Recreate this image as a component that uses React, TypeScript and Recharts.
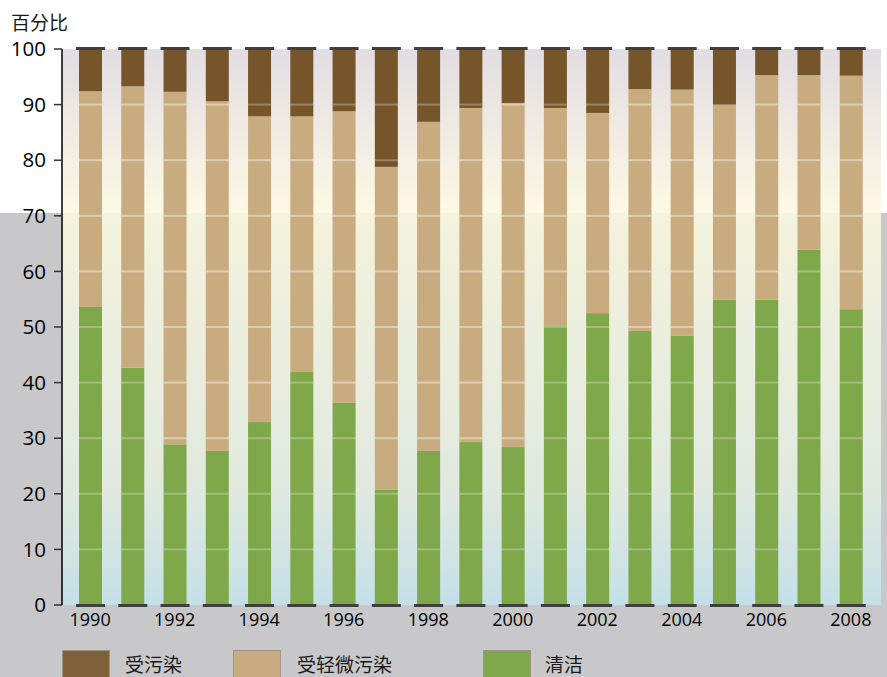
import React from "react"
import { BarChart, Bar, XAxis, YAxis, CartesianGrid } from "recharts"

const years = [
  "1990", "1991", "1992", "1993", "1994", "1995", "1996", "1997", "1998", "1999",
  "2000", "2001", "2002", "2003", "2004", "2005", "2006", "2007", "2008",
]
// 清洁
const clean = [53.6, 42.7, 28.9, 27.7, 32.9, 41.9, 36.4, 20.7, 27.7, 29.3, 28.4, 50.2, 52.5, 49.3, 48.4, 54.9, 54.9, 63.9, 53.2]
// 受轻微污染
const light = [38.8, 50.6, 63.4, 62.9, 55.0, 46.0, 52.4, 58.1, 59.2, 60.1, 61.9, 39.2, 36.0, 43.5, 44.3, 35.1, 40.4, 31.4, 42.0]
// 受污染
const polluted = [7.6, 6.7, 7.7, 9.4, 12.1, 12.1, 11.2, 21.2, 13.1, 10.6, 9.7, 10.6, 11.5, 7.2, 7.3, 10.0, 4.7, 4.7, 4.8]
const yTicks = [0, 10, 20, 30, 40, 50, 60, 70, 80, 90, 100]

const data = years.map((year, i) => ({ year, clean: clean[i], light: light[i], polluted: polluted[i] }))

const colors = { polluted: "#76552b", light: "#c9ab80", clean: "#7fa84a" }
const font = "'Open Sans', 'Noto Sans', sans-serif"
const cjk = "'Noto Sans CJK SC', 'Noto Sans', sans-serif"

type Seg = "clean" | "light" | "polluted"

function bounds(seg: Seg, p: any): [number, number] {
  if (seg === "clean") return [0, p.clean]
  if (seg === "light") return [p.clean, p.clean + p.light]
  return [p.clean + p.light, p.clean + p.light + p.polluted]
}

function Segment(props: any) {
  const { x, y, width, height, fill, payload, seg } = props
  if (!height || height <= 0) return null
  const [lo, hi] = bounds(seg, payload)
  const ppu = height / (hi - lo)
  const alpha = seg === "light" ? 0.4 : 0.27
  const lines = yTicks.filter((t) => t > lo && t < hi && t < 100)
  return (
    <g>
      <rect x={x} y={y} width={width} height={height} fill={fill} />
      {lines.map((t) => (
        <rect key={t} x={x} y={y + (hi - t) * ppu - 1} width={width} height={2} fill={`rgba(255,255,255,${alpha})`} />
      ))}
      {seg === "clean" && <rect x={x - 3} y={y + height - 1} width={width + 6} height={3} fill="#3f3f3f" />}
      {seg === "polluted" && <rect x={x - 3} y={y - 2} width={width + 6} height={3} fill="#3f3f3f" />}
    </g>
  )
}

const legendItems = [
  { label: "受污染", color: "#7d5f39", left: 62, textLeft: 125 },
  { label: "受轻微污染", color: "#c9ab80", left: 233, textLeft: 297 },
  { label: "清洁", color: "#7fa84a", left: 483, textLeft: 545 },
]

export default function App() {
  return (
    <div
      style={{
        position: "absolute",
        left: 0,
        top: 0,
        width: 887,
        height: 677,
        overflow: "hidden",
        background: "linear-gradient(to bottom, #ffffff 0px, #ffffff 213px, #c8c8ca 213px, #c8c8ca 100%)",
      }}
    >
      <svg width={0} height={0} style={{ position: "absolute" }}>
        <defs>
          <linearGradient id="plotBg" x1="0" y1="0" x2="0" y2="1">
            <stop offset="0" stopColor="#e2dde2" />
            <stop offset="0.295" stopColor="#fdf9e4" />
            <stop offset="0.295" stopColor="#f4f3dc" />
            <stop offset="0.8" stopColor="#e0e9e0" />
            <stop offset="1" stopColor="#c3e0e7" />
          </linearGradient>
        </defs>
      </svg>

      <div style={{ position: "absolute", left: 11, top: 8, fontFamily: cjk, fontSize: 19, color: "#1a1a1a", lineHeight: "28px" }}>
        百分比
      </div>

      <div style={{ position: "absolute", left: 0, top: 0 }}>
        <BarChart width={887} height={677} data={data} margin={{ top: 49, right: 6, bottom: 42, left: 0 }} barSize={23}>
          <CartesianGrid horizontal={false} vertical={false} fill="url(#plotBg)" />
          <XAxis
            dataKey="year"
            interval={1}
            axisLine={false}
            tickLine={false}
            height={30}
            padding={{ left: 7, right: 9 }}
            tick={{ fill: "#000", fontSize: 18, fontFamily: font }}
          />
          <YAxis
            type="number"
            domain={[0, 100]}
            ticks={yTicks}
            width={62}
            tickSize={8}
            tickMargin={8}
            axisLine={{ stroke: "#000", strokeWidth: 1.5 }}
            tickLine={{ stroke: "#333", strokeWidth: 1.5 }}
            tick={{ fill: "#000", fontSize: 20.5, fontFamily: font }}
          />
          <Bar dataKey="clean" stackId="a" fill={colors.clean} isAnimationActive={false} shape={(p: any) => <Segment {...p} seg="clean" />} />
          <Bar dataKey="light" stackId="a" fill={colors.light} isAnimationActive={false} shape={(p: any) => <Segment {...p} seg="light" />} />
          <Bar dataKey="polluted" stackId="a" fill={colors.polluted} isAnimationActive={false} shape={(p: any) => <Segment {...p} seg="polluted" />} />
        </BarChart>
      </div>

      {legendItems.map((item) => (
        <React.Fragment key={item.label}>
          <div
            style={{
              position: "absolute",
              left: item.left,
              top: 650,
              width: 46,
              height: 30,
              background: item.color,
              border: "1px solid #a09484",
            }}
          />
          <div
            style={{
              position: "absolute",
              left: item.textLeft,
              top: 650,
              fontFamily: cjk,
              fontSize: 19,
              lineHeight: "28px",
              color: "#1a1a1a",
            }}
          >
            {item.label}
          </div>
        </React.Fragment>
      ))}
    </div>
  )
}
